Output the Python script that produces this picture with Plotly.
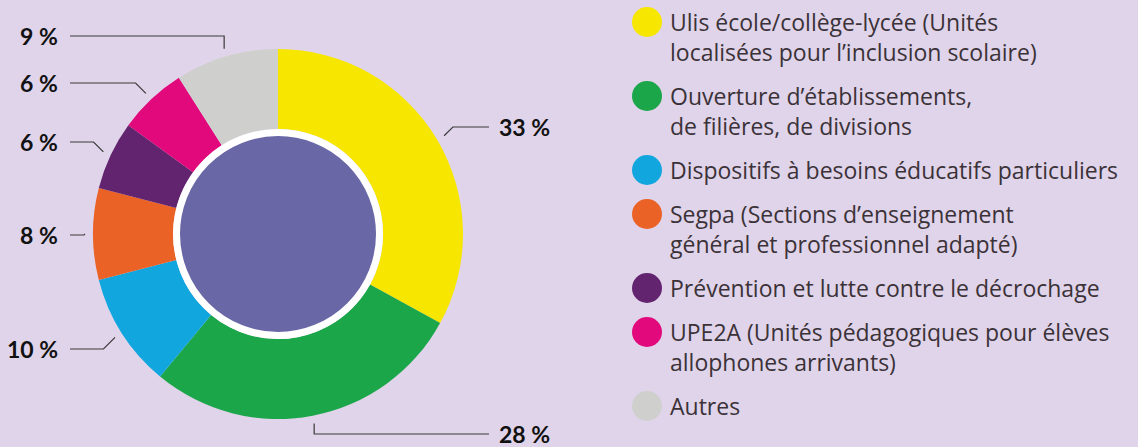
import math
import plotly.graph_objects as go

# ---- data ----
categories = [
    "Ulis école/collège-lycée (Unités<br>localisées pour l’inclusion scolaire)",
    "Ouverture d’établissements,<br>de filières, de divisions",
    "Dispositifs à besoins éducatifs particuliers",
    "Segpa (Sections d’enseignement<br>général et professionnel adapté)",
    "Prévention et lutte contre le décrochage",
    "UPE2A (Unités pédagogiques pour élèves<br>allophones arrivants)",
    "Autres",
]
values = [33, 28, 10, 8, 6, 6, 9]
colors = ["#f6e600", "#1ba64a", "#12a6df", "#ea6225", "#62236f", "#e2097c", "#cfd0ce"]

# ---- layout constants (pixels) ----
W, H = 1138, 447
CX, CY, R = 278, 234, 185
HOLE_R = 105
INNER_R = 101.5
BG = "#e0d4ea"
label_y = [127, 434, 349, 235, 142, 83, 36]
elbow_k = [1, 0, 1, 1, 1, 1, 0]
LEFT_END, LEFT_TXT = 70, 60
RIGHT_END, RIGHT_TXT = 489, 497
R_START = 193

fig = go.Figure()

fig.add_trace(go.Pie(
    values=values, labels=[c.replace("<br>", " ") for c in categories],
    marker=dict(colors=colors, line=dict(width=0)),
    hole=HOLE_R / R, sort=False, direction="clockwise", rotation=0,
    textinfo="none", hoverinfo="label+value", showlegend=False,
    domain=dict(x=[(CX - R) / W, (CX + R) / W],
                y=[(H - CY - R) / H, (H - CY + R) / H]),
))

fig.add_trace(go.Pie(
    values=[1], labels=["centre"],
    marker=dict(colors=["#6a67a7"], line=dict(color="white", width=7)),
    sort=False, textinfo="none", hoverinfo="skip", showlegend=False,
    domain=dict(x=[(CX - INNER_R) / W, (CX + INNER_R) / W],
                y=[(H - CY - INNER_R) / H, (H - CY + INNER_R) / H]),
))

annotations = []
total = sum(values)
cum = 0
for i, v in enumerate(values):
    mid = (cum + v / 2) / total * 2 * math.pi
    cum += v
    sx = CX + R_START * math.sin(mid)
    sy = CY - R_START * math.cos(mid)
    ly = label_y[i]
    side = 1 if math.sin(mid) > 0.05 or (i == 1) else -1
    ex = sx + side * abs(ly - sy) * elbow_k[i]
    end = RIGHT_END if side > 0 else LEFT_END
    fig.add_trace(go.Scatter(
        x=[sx, ex, end], y=[sy, ly, ly], mode="lines",
        line=dict(color="#3a3a3a", width=1.2), hoverinfo="skip", showlegend=False,
    ))
    annotations.append(dict(
        x=RIGHT_TXT if side > 0 else LEFT_TXT, y=ly, xref="x", yref="y",
        text=f"<b>{v} %</b>", showarrow=False,
        xanchor="left" if side > 0 else "right", yanchor="middle",
        font=dict(family="Lato", size=23, color="#111111"),
    ))

# ---- custom legend ----
LEG_X_DOT, LEG_X_TXT = 647, 668
LINE_H, GAP = 30, 14
y = 22
dot_x, dot_y = [], []
for i, c in enumerate(categories):
    lines = c.split("<br>")
    dot_x.append(LEG_X_DOT)
    dot_y.append(y)
    for j, ln in enumerate(lines):
        annotations.append(dict(
            x=LEG_X_TXT, y=y + j * LINE_H, xref="x", yref="y", text=ln,
            showarrow=False, xanchor="left", yanchor="middle",
            font=dict(family="Open Sans", size=23, color="#3b3238"),
        ))
    y += len(lines) * LINE_H + GAP

fig.add_trace(go.Scatter(
    x=dot_x, y=dot_y, mode="markers",
    marker=dict(size=30, color=colors, line=dict(width=0)),
    hoverinfo="skip", showlegend=False,
))

fig.update_layout(
    width=W, height=H, margin=dict(l=0, r=0, t=0, b=0),
    paper_bgcolor=BG, plot_bgcolor="rgba(0,0,0,0)",
    xaxis=dict(range=[0, W], visible=False, fixedrange=True),
    yaxis=dict(range=[H, 0], visible=False, fixedrange=True),
    annotations=annotations, showlegend=False,
)

fig.write_html("out.html", config={"displayModeBar": False},
               post_script="document.body.style.margin='0';document.body.style.overflow='hidden';")
